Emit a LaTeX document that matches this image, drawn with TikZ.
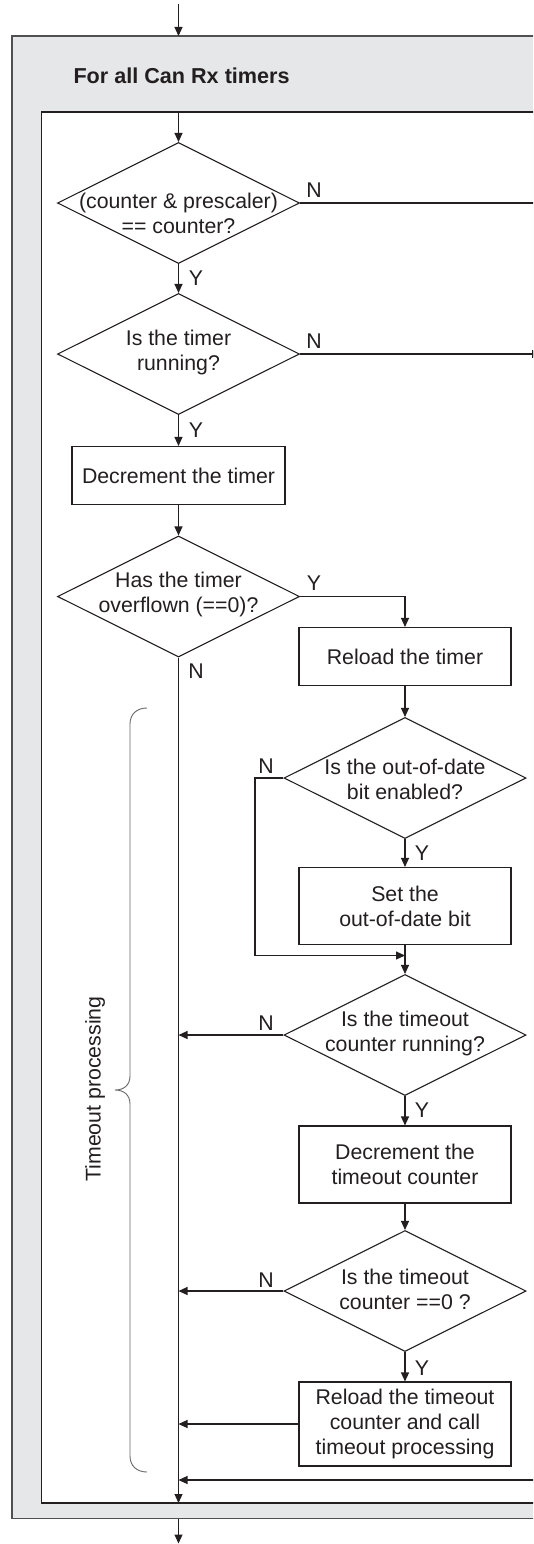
\documentclass[tikz,border=0pt]{standalone}
\usepackage{fontspec}
\setmainfont{Liberation Sans}
\usetikzlibrary{shapes.geometric,arrows.meta}
\definecolor{ink}{HTML}{231F20}
\definecolor{panel}{HTML}{E6E7E8}
\definecolor{frame}{HTML}{505052}
\definecolor{bracecol}{HTML}{666666}
\begin{document}
\begin{tikzpicture}[x=1pt,y=-1pt,
  font=\fontsize{21.3}{25}\selectfont,
  every node/.style={text=ink},
  line/.style={draw=ink, line width=1.1pt},
  arr/.style={line, -{Triangle[length=9pt,width=8pt]}},
  proc/.style={draw=ink, line width=1.1pt, fill=white, minimum width=212pt,
    align=center, inner sep=0pt},
  dec/.style={diamond, draw=ink, line width=1.1pt, minimum width=242pt,
    minimum height=121pt, inner sep=0pt},
  dtext/.style={align=center, inner sep=0pt},
  yn/.style={inner sep=0pt}
]
\useasboundingbox (0,0) rectangle (533,1544);
\clip (0,0) rectangle (533,1544);

% loop panel and its body
\draw[draw=frame, line width=1.4pt, fill=panel] (12,36) rectangle (580,1518.5);
\draw[draw=ink, line width=1.1pt, fill=white] (41.5,112) rectangle (570,1503);
\node[anchor=west, font=\fontsize{21.6}{25}\selectfont\bfseries] (title) at (70,75.5) {For all Can Rx timers};

% fixed points of the loop
\coordinate (in)       at (178.5,4);
\coordinate (loopTop)  at (178.5,36);
\coordinate (bodyTop)  at (178.5,112);
\coordinate (bodyBot)  at (178.5,1503);
\coordinate (loopBot)  at (178.5,1518.5);
\coordinate (out)      at (178.5,1543.5);
\coordinate (spine)    at (178.5,700);
\coordinate (skipA)    at (580,203);
\coordinate (skipB)    at (541,354);
\coordinate (back)     at (580,1480);
\coordinate (bypass)   at (255,955.5);
\coordinate (merge)    at (405,955.5);

% left column
\node[dec] (d1) at (178.5,203) {};
\node[dtext] (d1t) at (178.5,213) {(counter \& prescaler)\\== counter?};
\node[dec] (d2) at (178.5,354) {};
\node[dtext] (d2t) at (178.5,352) {Is the timer\\running?};
\node[proc, minimum width=213pt, minimum height=58pt] (b1) at (178.5,475.5) {Decrement the timer};
\node[dec] (d3) at (178.5,596.5) {};
\node[dtext] (d3t) at (178.5,594) {Has the timer\\overflown (==0)?};

% right column
\node[proc, minimum height=58pt] (b2) at (405,656.5) {Reload the timer};
\node[dec] (d4) at (405,778) {};
\node[dtext] (d4t) at (405,779) {Is the out-of-date\\bit enabled?};
\node[proc, minimum height=77pt] (b3) at (405,906) {Set the\\out-of-date bit};
\node[dec] (d5) at (405,1035) {};
\node[dtext] (d5t) at (405,1033) {Is the timeout\\counter running?};
\node[proc, minimum height=77pt] (b4) at (405,1164.5) {Decrement the\\timeout counter};
\node[dec] (d6) at (405,1291) {};
\node[dtext] (d6t) at (405,1289) {Is the timeout\\counter ==0 ?};
\node[proc, minimum height=84pt] (b5) at (405,1424) {Reload the timeout\\counter and call\\timeout processing};

% branch labels
\node[yn] (n1) at (314,190) {N};
\node[yn] (y1) at (196,278) {Y};
\node[yn] (n2) at (314,341) {N};
\node[yn] (y2) at (196,430) {Y};
\node[yn] (y3) at (314,583) {Y};
\node[yn] (n3) at (196,671) {N};
\node[yn] (n4) at (266,766) {N};
\node[yn] (y4) at (422,853) {Y};
\node[yn] (n5) at (266,1023) {N};
\node[yn] (y5) at (422,1110) {Y};
\node[yn] (n6) at (266,1280) {N};
\node[yn] (y6) at (422,1368) {Y};

% connectors
\draw[arr] (in) -- (loopTop);
\draw[arr] (bodyTop) -- (d1.north);
\draw[line] (d1.east) -- (skipA);
\draw[arr] (d1.south) -- (d2.north);
\draw[arr] (d2.east) -- (skipB);
\draw[arr] (d2.south) -- (b1.north);
\draw[arr] (b1.south) -- (d3.north);
\draw[arr] (d3.east) -| (b2.north);
\draw[arr] (b2.south) -- (d4.north);
\draw[arr] (d4.south) -- (b3.north);
\draw[arr] (d4.west) -| (bypass) -- (merge);
\draw[arr] (b3.south) -- (d5.north);
\draw[arr] (d5.west) -- (d5.west -| spine);
\draw[arr] (d5.south) -- (b4.north);
\draw[arr] (b4.south) -- (d6.north);
\draw[arr] (d6.west) -- (d6.west -| spine);
\draw[arr] (d6.south) -- (b5.north);
\draw[arr] (b5.west) -- (b5.west -| spine);
\draw[arr] (back) -- (back -| spine);
\draw[arr] (d3.south) -- (bodyBot);
\draw[arr] (loopBot) -- (out);

% brace over the timeout processing part
\draw[draw=bracecol, line width=0.9pt]
  (147,708) .. controls (137,708) and (130,714) .. (130,724)
  -- (130,1076) .. controls (130,1085) and (124,1090) .. (115,1090)
  .. controls (124,1090) and (130,1095) .. (130,1104)
  -- (130,1456) .. controls (130,1466) and (137,1472) .. (147,1472);
\node[rotate=90, inner sep=0pt] (tp) at (95,1089) {Timeout processing};
\end{tikzpicture}
\end{document}
